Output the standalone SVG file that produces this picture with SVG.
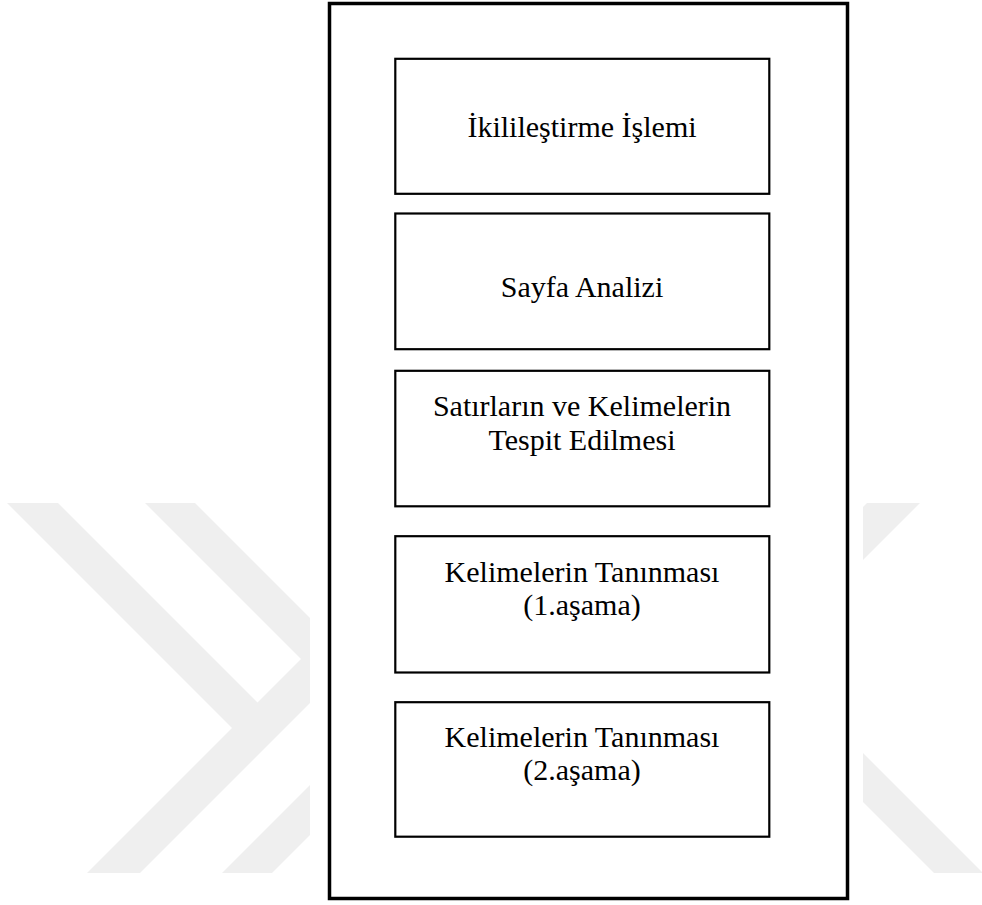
<svg xmlns="http://www.w3.org/2000/svg" width="982" height="905" viewBox="0 0 982 905">
  <style>
    .wm { fill: #efefef; }
    .outer { fill: none; stroke: #000; stroke-width: 3.5; }
    .box { fill: #fff; stroke: #000; stroke-width: 2.2; }
    .lbl { font-family: "Liberation Serif", "Times New Roman", serif; font-size: 30px; fill: #000; text-anchor: middle; }
  </style>
  <defs>
    <clipPath id="wmclip">
      <rect x="0" y="503" width="982" height="370"/>
    </clipPath>
  </defs>
  <rect width="982" height="905" fill="#fff"/>
  <g id="watermark" clip-path="url(#wmclip)">
    <!-- left chevron top arm A -->
    <polygon class="wm" points="-200,296 -149,296 284,729 232,728"/>
    <!-- band B: from bottom-left going up-right -->
    <polygon class="wm" points="-100,1060 -47,1060 500,513 500,460"/>
    <!-- band C: top-left going down-right -->
    <polygon class="wm" points="-200,158 -150,158 500,808 500,858"/>
    <!-- band D: bottom going up-right -->
    <polygon class="wm" points="100,995 150,995 600,545 600,495"/>
    <!-- right top band -->
    <polygon class="wm" points="1000,370 1000,423 700,723 700,670"/>
    <!-- right bottom band -->
    <polygon class="wm" points="700,590 700,639 1100,1039 1100,990"/>
  </g>
  <rect x="310" y="0" width="553" height="905" fill="#fff"/>
  <g id="frame">
    <rect class="outer" x="329.5" y="3.5" width="518" height="895"/>
  </g>
  <g id="connectors"></g>
  <g id="n1">
    <rect class="box" x="395.3" y="58.8" width="374" height="135"/>
    <text class="lbl" x="582" y="137.3">İkilileştirme İşlemi</text>
  </g>
  <g id="n2">
    <rect class="box" x="395.3" y="213.5" width="374" height="135.7"/>
    <text class="lbl" x="582" y="296.5">Sayfa Analizi</text>
  </g>
  <g id="n3">
    <rect class="box" x="395.3" y="370.8" width="374" height="135.5"/>
    <text class="lbl" x="582" y="416">Satırların ve Kelimelerin</text>
    <text class="lbl" x="582" y="449.5">Tespit Edilmesi</text>
  </g>
  <g id="n4">
    <rect class="box" x="395.3" y="536.2" width="374" height="136.3"/>
    <text class="lbl" x="582" y="582">Kelimelerin Tanınması</text>
    <text class="lbl" x="582" y="615">(1.aşama)</text>
  </g>
  <g id="n5">
    <rect class="box" x="395.3" y="702.2" width="374" height="134.5"/>
    <text class="lbl" x="582" y="747">Kelimelerin Tanınması</text>
    <text class="lbl" x="582" y="780">(2.aşama)</text>
  </g>
</svg>
